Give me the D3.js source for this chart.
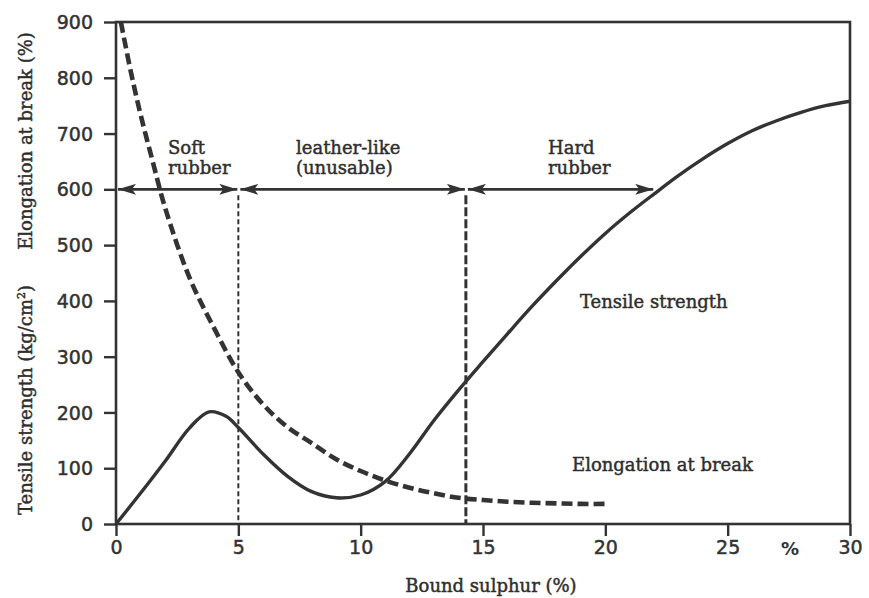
<!DOCTYPE html>
<html>
<head>
<meta charset="utf-8">
<script src="https://cdn.jsdelivr.net/npm/d3@7"></script>
<style>
  html, body { margin: 0; padding: 0; background: #fff; }
  svg { display: block; }
  .serif { font-family: "DejaVu Serif", "Liberation Serif", serif; fill: #2e2e2e; stroke: #2e2e2e; stroke-width: 0.45px; }
</style>
</head>
<body>
<svg id="chart" width="869" height="598"></svg>
<script>
// ---- data ----
const xTicks = [0, 5, 10, 15, 20, 25, 30];
const yTicks = [0, 100, 200, 300, 400, 500, 600, 700, 800, 900];

// Tensile strength (kg/cm²) vs bound sulphur (%)
const tensileX = [0, 1, 2, 3, 3.8, 4.5, 5, 6, 7, 8, 9, 10, 11, 12, 13, 14, 15, 16, 17, 18, 19, 20, 21, 22, 23, 24, 25, 26, 27, 28, 29, 30];
const tensileY = [0, 55, 112, 172, 201, 193, 173, 126, 86, 58, 47, 52, 76, 126, 186, 240, 291, 341, 390, 436, 480, 521, 558, 592, 625, 655, 682, 705, 723, 738, 750, 758];

// Elongation at break (%) vs bound sulphur (%)
const elongX = [0.2, 0.6, 1, 1.5, 2, 3, 4, 5, 6, 7, 8, 9, 10, 11, 12, 13, 14, 15, 16, 17, 18, 19, 20];
const elongY = [900, 812, 735, 650, 568, 442, 352, 272, 215, 174, 145, 116, 95, 78, 65, 55, 47, 43, 40, 38, 37, 36, 36];

// region boundaries (% bound sulphur) and the level the arrows are drawn at
const regionBounds = [0, 5, 14.3, 22];
const regionLevel = 600;
const regionNames = [["Soft", "rubber"], ["leather-like", "(unusable)"], ["Hard", "rubber"]];
const curveLabels = ["Tensile strength", "Elongation at break"];
const xTitle = "Bound sulphur (%)";
const yTitleTop = "Elongation at break (%)";
const yTitleBottom = "Tensile strength (kg/cm²)";

// ---- drawing ----
const ink = "#333";
const svg = d3.select("#chart");
const x = d3.scaleLinear().domain([0, 30]).range([116, 850]);
const y = d3.scaleLinear().domain([0, 900]).range([524, 22]);

// arrow marker
const defs = svg.append("defs");
defs.append("marker")
  .attr("id", "arr")
  .attr("viewBox", "0 0 18 11")
  .attr("refX", 18).attr("refY", 5.5)
  .attr("markerWidth", 18).attr("markerHeight", 11)
  .attr("markerUnits", "userSpaceOnUse")
  .attr("orient", "auto-start-reverse")
  .append("path").attr("d", "M0,0 L18,5.5 L0,11 L4,5.5 Z").attr("fill", ink);

// frame
svg.append("rect")
  .attr("x", x(0)).attr("y", y(900))
  .attr("width", x(30) - x(0)).attr("height", y(0) - y(900))
  .attr("fill", "none").attr("stroke", ink).attr("stroke-width", 2.6);

// axes
const xAxis = svg.append("g").attr("transform", `translate(0,${y(0)})`)
  .call(d3.axisBottom(x).tickValues(xTicks).tickSize(12).tickPadding(5).tickFormat(d3.format("d")));
const yAxis = svg.append("g").attr("transform", `translate(${x(0)},0)`)
  .call(d3.axisLeft(y).tickValues(yTicks).tickSize(12).tickPadding(11).tickFormat(d3.format("d")));
[xAxis, yAxis].forEach(g => {
  g.select(".domain").remove();
  g.selectAll(".tick line").attr("stroke", ink).attr("stroke-width", 2.4);
  g.selectAll(".tick text").attr("font-size", 19).attr("fill", ink)
    .attr("stroke", ink).attr("stroke-width", 0.5)
    .attr("font-family", "DejaVu Sans, sans-serif");
});
yAxis.selectAll(".tick text").attr("dy", "0.35em");

// "%" between 25 and 30
svg.append("text")
  .attr("x", x(27.55)).attr("y", 555).attr("text-anchor", "middle")
  .attr("font-family", "DejaVu Sans, sans-serif").attr("font-weight", "bold")
  .attr("fill", ink).attr("font-size", 18).text("%");

// axis titles
svg.append("text").attr("class", "serif")
  .attr("x", 491).attr("y", 592).attr("text-anchor", "middle")
  .attr("font-size", 18).text(xTitle);
svg.append("text").attr("class", "serif")
  .attr("transform", `translate(32,${141}) rotate(-90)`).attr("text-anchor", "middle")
  .attr("font-size", 18).text(yTitleTop);
const yt2 = svg.append("text").attr("class", "serif")
  .attr("transform", `translate(32,${400}) rotate(-90)`).attr("text-anchor", "middle")
  .attr("font-size", 18);
yt2.append("tspan").text(yTitleBottom.replace("²)", ""));
yt2.append("tspan").attr("dy", -7).attr("font-size", 11).text("2");
yt2.append("tspan").attr("dy", 7).text(")");

// vertical dashed boundary lines
svg.append("line")
  .attr("x1", x(regionBounds[1])).attr("x2", x(regionBounds[1]))
  .attr("y1", y(regionLevel) + 6).attr("y2", y(0))
  .attr("stroke", ink).attr("stroke-width", 2).attr("stroke-dasharray", "5,3");
svg.append("line")
  .attr("x1", x(regionBounds[2])).attr("x2", x(regionBounds[2]))
  .attr("y1", y(regionLevel) + 6).attr("y2", y(0))
  .attr("stroke", ink).attr("stroke-width", 3).attr("stroke-dasharray", "9,3");

// region arrows
for (let i = 0; i < regionBounds.length - 1; i++) {
  svg.append("line")
    .attr("x1", x(regionBounds[i]) + 2).attr("x2", x(regionBounds[i + 1]) - 1)
    .attr("y1", y(regionLevel)).attr("y2", y(regionLevel))
    .attr("stroke", ink).attr("stroke-width", 2.6)
    .attr("marker-start", "url(#arr)").attr("marker-end", "url(#arr)");
}

// region labels
const labelX = [168, 296, 548];
regionNames.forEach((lines, i) => {
  lines.forEach((t, j) => {
    svg.append("text").attr("class", "serif")
      .attr("x", labelX[i]).attr("y", 154 + j * 20)
      .attr("font-size", 18).text(t);
  });
});

// curves
const line = d3.line().x(d => x(d[0])).y(d => y(d[1])).curve(d3.curveCatmullRom.alpha(0.5));
svg.append("path")
  .datum(tensileX.map((v, i) => [v, tensileY[i]]))
  .attr("d", line).attr("fill", "none").attr("stroke", ink)
  .attr("stroke-width", 3.4).attr("stroke-linejoin", "round");
svg.append("path")
  .datum(elongX.map((v, i) => [v, elongY[i]]))
  .attr("d", line).attr("fill", "none").attr("stroke", ink)
  .attr("stroke-width", 4.6).attr("stroke-dasharray", "11,5");

// curve labels
svg.append("text").attr("class", "serif")
  .attr("x", 580).attr("y", 308).attr("font-size", 18).text(curveLabels[0]);
svg.append("text").attr("class", "serif")
  .attr("x", 572).attr("y", 471).attr("font-size", 18).text(curveLabels[1]);
</script>
</body>
</html>
